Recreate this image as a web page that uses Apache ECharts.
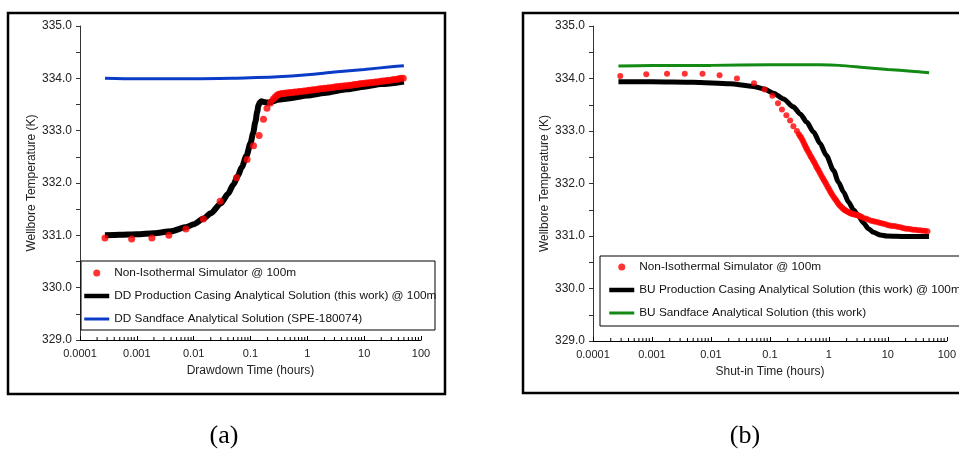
<!DOCTYPE html>
<html><head><meta charset="utf-8">
<script src="https://cdn.jsdelivr.net/npm/echarts@6/dist/echarts.min.js"></script>
<style>html,body{margin:0;padding:0;background:#fff;overflow:hidden}#c{width:959px;height:449px}</style>
</head><body><div id="c"></div>
<script>
const xTickLabels = ['0.0001','0.001','0.01','0.1','1','10','100'];
const yTickLabels = ['329.0','330.0','331.0','332.0','333.0','334.0','335.0'];
const xMinorMultipliers = [2,3,4,5,6,7,8,9];
const xDecades = [0.0001,0.001,0.01,0.1,1,10];

const namesA = ['Non-Isothermal Simulator @ 100m','DD Production Casing Analytical Solution (this work) @ 100m','DD Sandface Analytical Solution (SPE-180074)'];
const namesB = ['Non-Isothermal Simulator @ 100m','BU Production Casing Analytical Solution (this work) @ 100m','BU Sandface Analytical Solution (this work)'];

// (a) drawdown
const ddSimTime = [0.000275,0.00081,0.00184,0.00366,0.0073,0.0148,0.0292,0.0568,0.087,0.113,0.142,0.169,0.195,0.224,
 0.25,0.27,0.29,0.31,0.33,0.36,0.39,0.42,0.46,0.5,0.55,0.6,0.66,0.72,0.79,0.87,0.95,1.05,1.15,1.26,1.38,1.52,1.67,1.83,
 2.0,2.2,2.4,2.65,2.9,3.2,3.5,3.85,4.2,4.6,5.1,5.6,6.1,6.7,7.4,8.1,8.9,9.8,10.8,11.8,13,14.3,15.7,17.2,18.9,20.8,22.9,
 25.1,27.6,30.4,33.4,36.7,40.4,44.4,48.8];
const ddSimTemp = [330.95,330.93,330.95,331.00,331.12,331.31,331.65,332.10,332.45,332.71,332.91,333.22,333.43,333.53,
 333.60,333.64,333.67,333.69,333.70,333.71,333.71,333.72,333.72,333.73,333.73,333.74,333.74,333.75,333.75,333.76,333.76,333.77,333.77,333.78,333.78,333.79,333.80,333.80,
 333.81,333.81,333.82,333.82,333.83,333.84,333.84,333.85,333.85,333.86,333.86,333.87,333.87,333.88,333.88,333.89,333.90,333.90,333.91,333.91,333.92,333.92,333.93,333.93,333.94,333.95,333.95,
 333.96,333.96,333.97,333.98,333.98,333.99,334.00,334.00];
const ddCasingTime = [0.000275,0.0005,0.001,0.002,0.004,0.0075,0.01,0.015,0.02,0.03,0.04,0.05,0.06,0.07,0.085,0.1,0.111,0.122,0.131,0.138,0.146,0.156,0.17,0.19,0.21,0.25,0.3,0.5,1,2,5,10,20,50];
const ddCasingTemp = [331.00,331.01,331.02,331.04,331.08,331.16,331.21,331.32,331.42,331.61,331.79,331.97,332.14,332.30,332.52,332.76,332.95,333.17,333.36,333.48,333.54,333.56,333.55,333.54,333.54,333.56,333.59,333.62,333.67,333.72,333.79,333.84,333.89,333.94];
const ddSandTime = [0.000275,0.001,0.01,0.05,0.1,0.3,1,3,10,30,50];
const ddSandTemp = [334.00,333.99,333.99,334.00,334.01,334.03,334.07,334.12,334.17,334.22,334.24];

// (b) build-up
const buSimTime = [0.00029,0.0008,0.0018,0.0036,0.0072,0.014,0.0276,0.0537,0.081,0.11,0.137,0.16,0.19,0.22,0.25,0.287,
 0.31,0.325,0.34,0.355,0.37,0.385,0.40,0.415,0.43,0.45,0.47,0.49,0.51,0.535,0.56,0.585,0.61,0.635,0.66,0.69,0.72,0.755,0.79,0.825,
 0.86,0.90,0.94,0.985,1.03,1.075,1.12,1.175,1.23,1.285,1.34,1.4,1.46,1.53,1.6,1.675,1.75,1.82,1.9,2.0,2.1,2.2,2.3,2.4,2.5,2.62,2.75,2.87,
 3.0,3.15,3.3,3.45,3.6,3.95,4.3,4.7,5.2,5.7,6.2,6.8,7.4,8.1,8.9,9.8,10.7,11.7,12.8,14,15.4,16.9,18.5,20.3,22.3,24.5,26.9,29.5,32.4,35.5,39,42.8,47];
const buSimTemp = [334.05,334.08,334.09,334.09,334.09,334.06,334.00,333.91,333.79,333.67,333.53,333.41,333.30,333.20,333.09,333.00,
 332.94,332.90,332.87,332.83,332.79,332.75,332.71,332.67,332.64,332.60,332.56,332.52,332.49,332.45,332.41,332.37,332.33,332.29,332.26,332.22,332.18,332.14,332.10,332.06,
 332.03,331.99,331.95,331.91,331.87,331.83,331.80,331.76,331.73,331.70,331.67,331.64,331.61,331.58,331.56,331.54,331.52,331.50,331.49,331.47,331.46,331.45,331.44,331.43,331.42,331.415,331.41,331.405,
 331.40,331.39,331.38,331.37,331.36,331.34,331.33,331.31,331.29,331.28,331.27,331.26,331.25,331.24,331.23,331.21,331.20,331.19,331.19,331.18,331.17,331.16,331.15,331.14,331.14,331.13,331.12,331.12,331.11,331.11,331.10,331.10,331.09];
const buCasingTime = [0.00027,0.001,0.005,0.021,0.052,0.08,0.115,0.17,0.25,0.33,0.42,0.55,0.71,0.9,1.2,1.45,1.77,2.15,2.6,3.1,3.86,4.7,5.7,7.5,9.6,20,50];
const buCasingTemp = [333.94,333.94,333.93,333.90,333.85,333.80,333.72,333.61,333.46,333.32,333.17,332.98,332.76,332.54,332.25,332.03,331.84,331.65,331.50,331.40,331.25,331.14,331.07,331.02,331.00,330.99,330.99];
const buSandTime = [0.00027,0.001,0.01,0.1,0.7,1.5,3.9,10,25,50];
const buSandTemp = [334.24,334.25,334.25,334.26,334.26,334.25,334.21,334.17,334.14,334.11];

const zip = (a,b) => a.map((v,i)=>[v,b[i]]);
const minorTicks = [];
xDecades.forEach(d => xMinorMultipliers.forEach(m => minorTicks.push([d*m])));

const FONT = 'Liberation Sans';
function xAxis(gi, name){
  return {type:'log', logBase:10, min:0.0001, max:100, gridIndex:gi,
    name:name, nameLocation:'middle', nameGap:25,
    nameTextStyle:{fontFamily:FONT,fontSize:12,color:'#222'},
    axisLine:{lineStyle:{color:'#000',width:1}},
    axisTick:{inside:true,length:4,lineStyle:{color:'#000'}},
    axisLabel:{fontFamily:FONT,fontSize:11,color:'#222',margin:8,
      formatter:(v,i)=>xTickLabels[Math.round(Math.log10(v))+4]},
    splitLine:{show:false}};
}
function yAxis(gi){
  return {type:'value', min:329, max:335, interval:1, gridIndex:gi,
    name:'Wellbore Temperature (K)', nameLocation:'middle', nameGap:42,
    nameTextStyle:{fontFamily:FONT,fontSize:12,color:'#222'},
    axisLine:{show:true,lineStyle:{color:'#333',width:1}},
    axisTick:{show:true,inside:false,length:4,lineStyle:{color:'#333'}},
    minorTick:{show:true,splitNumber:2,length:4,lineStyle:{color:'#333'}},
    axisLabel:{fontFamily:FONT,fontSize:12,color:'#222',margin:8,
      formatter:(v)=>yTickLabels[Math.round(v-329)]},
    splitLine:{show:false}};
}
function tickSeries(gi){
  return {type:'custom', xAxisIndex:gi, yAxisIndex:gi, silent:true, clip:false, z:3,
    data:minorTicks,
    renderItem:(params,api)=>{
      const cs = params.coordSys;
      const x = api.coord([api.value(0),330])[0];
      const y = cs.y + cs.height;
      return {type:'line', shape:{x1:x,y1:y,x2:x,y2:y-3}, style:{stroke:'#000',lineWidth:1}};
    }};
}
const legendText = {fontFamily:FONT,fontSize:11.8,color:'#111',lineHeight:14};
function legendData(names, lineWidths){
  return names.map((n,i)=> i===0 ? {name:n} :
    {name:n, itemStyle:{opacity:0}, lineStyle:{width:lineWidths[i]}});
}

const chart = echarts.init(document.getElementById('c'));
chart.setOption({
  animation:false,
  backgroundColor:'#fff',
  grid:[{left:80,top:26,width:341,height:314},{left:593,top:26,width:354,height:315}],
  xAxis:[xAxis(0,'Drawdown Time (hours)'), xAxis(1,'Shut-in Time (hours)')],
  yAxis:[yAxis(0), yAxis(1)],
  legend:[
    {data:legendData(namesA,[0,4.5,3]), orient:'vertical', left:82, top:266, padding:0, itemGap:9,
     itemWidth:25, itemHeight:7, textStyle:legendText, selectedMode:false, z:10},
    {data:legendData(namesB,[0,4.5,3]), orient:'vertical', left:607, top:260, padding:0, itemGap:9,
     itemWidth:25, itemHeight:7, textStyle:legendText, selectedMode:false, z:10}
  ],
  graphic:[
    {type:'rect', shape:{x:8,y:13,width:437,height:381}, style:{fill:'none',stroke:'#000',lineWidth:2.5}, z:0},
    {type:'rect', shape:{x:523,y:13,width:460,height:380}, style:{fill:'none',stroke:'#000',lineWidth:2.5}, z:0},
    {type:'rect', shape:{x:81,y:261,width:354,height:69}, style:{fill:'#fff',stroke:'#000',lineWidth:1}, z:1},
    {type:'rect', shape:{x:600,y:256,width:380,height:70}, style:{fill:'#fff',stroke:'#000',lineWidth:1}, z:1},
    {type:'text', x:224, y:436, style:{text:'(a)',fontFamily:'Liberation Serif',fontSize:26,fill:'#000',align:'center',verticalAlign:'middle'}},
    {type:'text', x:745, y:436, style:{text:'(b)',fontFamily:'Liberation Serif',fontSize:26,fill:'#000',align:'center',verticalAlign:'middle'}}
  ],
  series:[
    {name:namesA[1], type:'line', xAxisIndex:0, yAxisIndex:0, data:zip(ddCasingTime,ddCasingTemp), symbol:'none',
     smooth:0.25, smoothMonotone:'x', lineStyle:{color:'#000',width:6}, itemStyle:{color:'#000'}, z:2},
    {name:namesA[2], type:'line', xAxisIndex:0, yAxisIndex:0, data:zip(ddSandTime,ddSandTemp), symbol:'none',
     smooth:0.3, lineStyle:{color:'#0a3cc8',width:3}, itemStyle:{color:'#0a3cc8'}, z:2},
    {name:namesA[0], type:'scatter', xAxisIndex:0, yAxisIndex:0, data:zip(ddSimTime,ddSimTemp), symbol:'circle',
     symbolSize:7, itemStyle:{color:'#ff0000'}, z:3},
    {name:namesB[1], type:'line', xAxisIndex:1, yAxisIndex:1, data:zip(buCasingTime,buCasingTemp), symbol:'none',
     smooth:0.25, smoothMonotone:'x', lineStyle:{color:'#000',width:5}, itemStyle:{color:'#000'}, z:2},
    {name:namesB[2], type:'line', xAxisIndex:1, yAxisIndex:1, data:zip(buSandTime,buSandTemp), symbol:'none',
     smooth:0.3, lineStyle:{color:'#138a13',width:3}, itemStyle:{color:'#138a13'}, z:2},
    {name:'sim-b', type:'scatter', xAxisIndex:1, yAxisIndex:1, data:zip(buSimTime,buSimTemp), symbol:'circle',
     symbolSize:6, itemStyle:{color:'#ff0000'}, z:3},
    tickSeries(0), tickSeries(1)
  ]
});
</script></body></html>
